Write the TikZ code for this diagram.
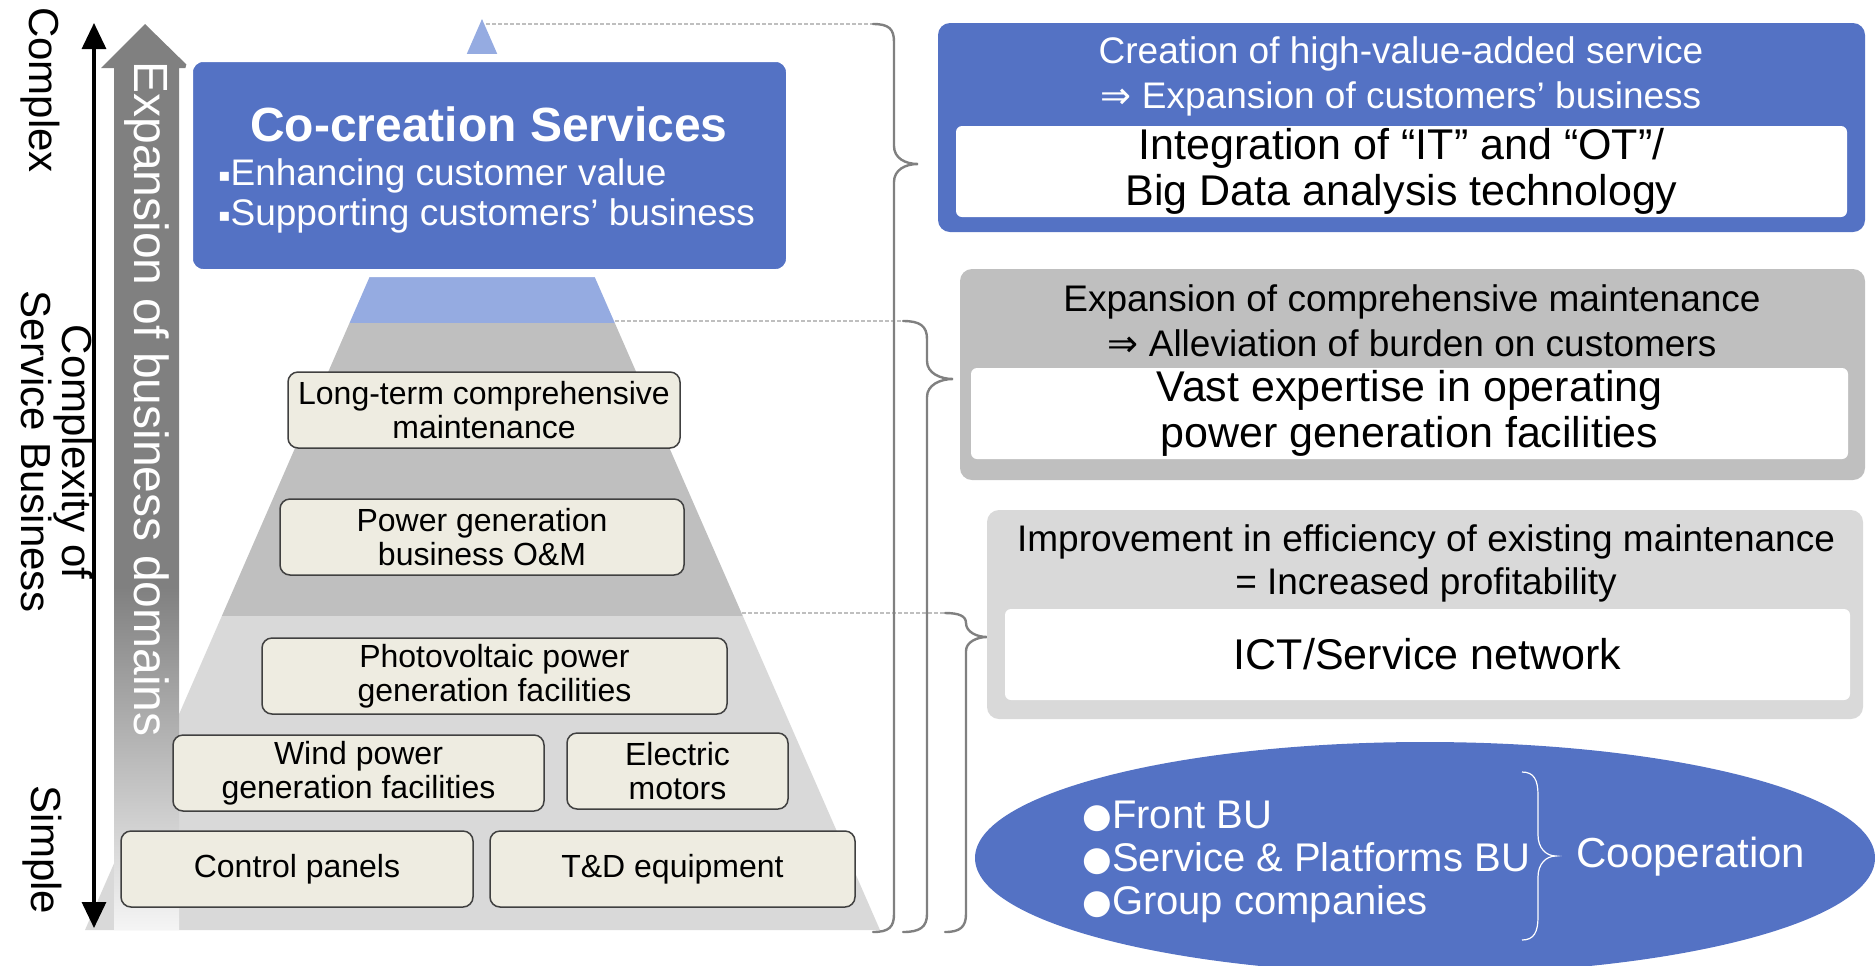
\documentclass[tikz,border=0pt]{standalone}
\usepackage{fontspec}
\setmainfont{Liberation Sans}
\newfontfamily\symfont{DejaVu Sans}
\usetikzlibrary{arrows.meta,shapes.geometric}

\definecolor{mainblue}{HTML}{5472C4}
\definecolor{paleblue}{HTML}{95ABE1}
\definecolor{midgray}{HTML}{BFBFBF}
\definecolor{lightgray}{HTML}{D9D9D9}
\definecolor{cream}{HTML}{EEECE1}
\definecolor{edgegray}{HTML}{404040}
\definecolor{bracegray}{HTML}{808080}

% gray arrow: dark at the top, fading to near white at the bottom
\pgfdeclareverticalshading{fadegray}{100bp}{color(0bp)=(white!92!gray); color(25bp)=(white!92!gray); color(44bp)=(gray); color(75bp)=(gray); color(100bp)=(gray)}

\begin{document}
\begin{tikzpicture}[x=0.5pt,y=-0.5pt,
  itembox/.style={draw=edgegray, fill=cream, rounded corners=5pt, line width=0.75pt,
    align=center, inner sep=0pt, font=\fontsize{16}{16.75}\selectfont},
  panel/.style={rounded corners=6pt, inner sep=0pt},
  innerbox/.style={fill=white, rounded corners=3pt, inner sep=0pt, align=center,
    font=\fontsize{21.5}{23}\selectfont},
  headtext/.style={align=center, inner sep=0pt, font=\fontsize{18.5}{22.5}\selectfont},
  guide/.style={draw=midgray, line width=0.8pt, dash pattern=on 2pt off 1pt},
  bracket/.style={draw=bracegray, line width=1.2pt, line cap=round},
  sidelabel/.style={rotate=-90, align=center, inner sep=0pt, font=\fontsize{21}{19}\selectfont}]

\useasboundingbox (0,0) rectangle (1875,965);

% ---------- pyramid ----------
\coordinate (apex) at (482,19);
\coordinate (baseL) at (85,930);
\coordinate (baseR) at (880,930);
\begin{scope}
  \clip (apex) -- (baseR) -- (baseL) -- cycle;
  \fill[paleblue] (0,0) rectangle (1000,323);
  \fill[midgray] (0,323) rectangle (1000,616);
  \fill[lightgray] (0,616) rectangle (1000,931);
\end{scope}

% ---------- axis arrows ----------
\shade[shading=fadegray] (145,24) -- (190,68) -- (179,68) -- (179,930) -- (114,930) -- (114,68) -- (101,68) -- cycle;
\node[rotate=-90, text=white, inner sep=0pt, font=\fontsize{24}{24}\selectfont] (domains) at (147,399) {Expansion of business domains};

\coordinate (axtop) at (94,23);
\coordinate (axbot) at (94,928);
\draw[line width=1.6pt, {Triangle[width=12pt,length=13pt]}-{Triangle[width=12pt,length=13pt]}] (axtop) -- (axbot);

\node[sidelabel] (complex) at (40,90) {Complex};
\node[sidelabel] (complexity) at (57,452) {Complexity of\\Service Business};
\node[sidelabel] (simple) at (42,850) {Simple};

% ---------- top of pyramid ----------
\node[draw=white, line width=4pt, fill=mainblue, rounded corners=7pt, minimum width=300.5pt, minimum height=107.5pt] (cocreate) at (489.5,165.5) {};
\node[text=white, inner sep=0pt, font=\fontsize{24}{28}\selectfont\bfseries] (cotitle) at (489,124) {Co-creation Services};
\node[anchor=west, align=left, text=white, inner sep=0pt, font=\fontsize{18.5}{20}\selectfont] (cobullets) at (218,196)
  {\raisebox{2pt}{\symfont\fontsize{9}{9}\selectfont ▪}Enhancing customer value\\\raisebox{2pt}{\symfont\fontsize{9}{9}\selectfont ▪}Supporting customers’ business};

% ---------- business items ----------
\node[itembox, minimum width=196pt, minimum height=38pt] (longterm) at (484,410) {Long-term comprehensive\\maintenance};
\node[itembox, minimum width=202pt, minimum height=38pt] (om) at (482,537) {Power generation\\business O\&M};
\node[itembox, minimum width=232.5pt, minimum height=38pt] (pv) at (494.5,676) {Photovoltaic power\\generation facilities};
\node[itembox, minimum width=185.5pt, minimum height=38pt] (wind) at (358.5,773) {Wind power\\generation facilities};
\node[itembox, minimum width=110.5pt, minimum height=38pt] (motors) at (677.5,771) {Electric\\motors};
\node[itembox, minimum width=176pt, minimum height=38pt] (panels) at (297,869) {Control panels};
\node[itembox, minimum width=182.5pt, minimum height=38pt] (td) at (672.5,869) {T\&D equipment};

% ---------- guides and braces ----------
\coordinate (g1a) at (486,24);  \coordinate (g1b) at (873,24);
\coordinate (g2a) at (615,321); \coordinate (g2b) at (903,321);
\coordinate (g3a) at (742,613); \coordinate (g3b) at (945,613);
\draw[guide] (g1a) -- (g1b);
\draw[guide] (g2a) -- (g2b);
\draw[guide] (g3a) -- (g3b);

\draw[bracket] (g1b) .. controls (889,24) and (894,29) .. (894,42) -- (894,146)
  .. controls (894,158) and (905,164) .. (918,164) .. controls (905,164) and (894,170) .. (894,182)
  -- (894,914) .. controls (894,927) and (889,932) .. (873,932);
\draw[bracket] (g2b) .. controls (920,321) and (927,326) .. (927,339) -- (927,361)
  .. controls (927,373) and (940,379) .. (953,379) .. controls (940,379) and (927,385) .. (927,397)
  -- (927,914) .. controls (927,927) and (920,932) .. (903,932);
\draw[bracket] (g3b) .. controls (959,613) and (966,616) .. (966,623)
  .. controls (966,632) and (977,637) .. (987,637) .. controls (977,637) and (966,642) .. (966,651)
  -- (966,914) .. controls (966,927) and (960,932) .. (945,932);

% ---------- right panels ----------
\node[panel, fill=mainblue, minimum width=463.5pt, minimum height=104.5pt] (panelA) at (1401.5,127.5) {};
\node[headtext, text=white] (headA) at (1401,76) {Creation of high-value-added service\\{\symfont ⇒} Expansion of customers’ business};
\node[innerbox, minimum width=445.5pt, minimum height=45.5pt] (innerA) at (1401.5,171.5) {Integration of “IT” and “OT”/\\Big Data analysis technology};

\node[panel, fill=midgray, minimum width=452.5pt, minimum height=105.5pt] (panelB) at (1412.5,374.5) {};
\node[headtext] (headB) at (1412,320.5) {Expansion of comprehensive maintenance\\{\symfont ⇒} Alleviation of burden on customers};
\node[innerbox, minimum width=438.5pt, minimum height=45.5pt] (innerB) at (1409.5,413.5) {Vast expertise in operating\\power generation facilities};

\node[panel, fill=lightgray, minimum width=438pt, minimum height=104.5pt] (panelC) at (1425,614.5) {};
\node[headtext, font=\fontsize{18.5}{21.5}\selectfont] (headC) at (1426,563) {Improvement in efficiency of existing maintenance\\= Increased profitability};
\node[innerbox, minimum width=422.5pt, minimum height=45.5pt] (innerC) at (1427.5,654.5) {ICT/Service network};

% ---------- cooperation ellipse ----------
\node[ellipse, fill=mainblue, minimum width=450pt, minimum height=116pt, inner sep=0pt] (coop) at (1425,858) {};
\node[anchor=west, align=left, text=white, inner sep=0pt, font=\fontsize{20}{21.5}\selectfont] (units) at (1082,862)
  {\raisebox{0.5pt}{\symfont\fontsize{17}{17}\selectfont ●}Front BU\\\raisebox{0.5pt}{\symfont\fontsize{17}{17}\selectfont ●}Service \& Platforms BU\\\raisebox{0.5pt}{\symfont\fontsize{17}{17}\selectfont ●}Group companies};
\draw[white, line width=0.6pt] (1522,772) .. controls (1534,772) and (1538,780) .. (1538,795) -- (1538,835)
  .. controls (1538,848) and (1546,856) .. (1556,856) .. controls (1546,856) and (1538,864) .. (1538,877)
  -- (1538,917) .. controls (1538,932) and (1534,940) .. (1522,940);
\node[anchor=west, text=white, inner sep=0pt, font=\fontsize{21}{21}\selectfont] (cooplabel) at (1576,857) {Cooperation};

\end{tikzpicture}
\end{document}
